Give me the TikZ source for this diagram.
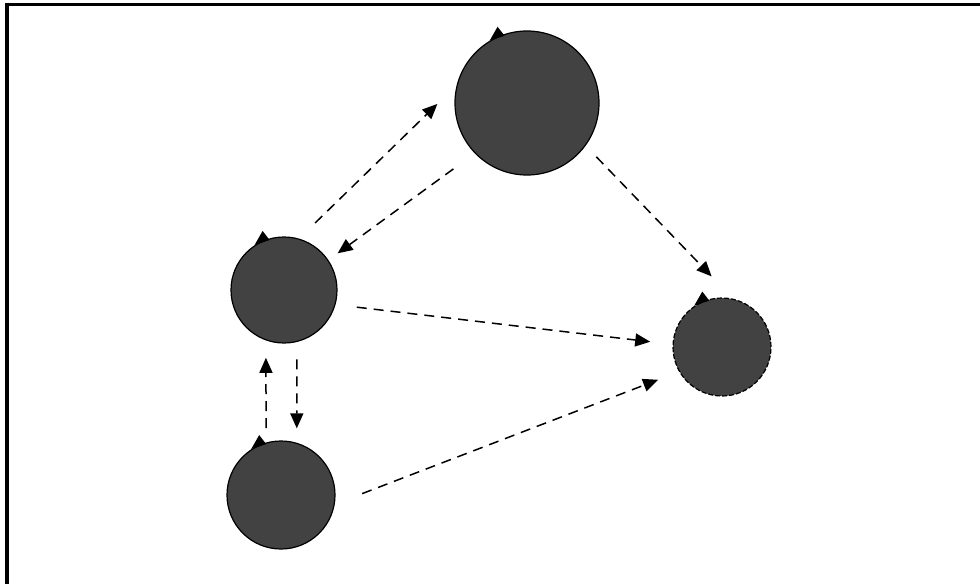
\documentclass[tikz,border=0pt]{standalone}
\usetikzlibrary{arrows.meta}

\tikzset{
  ball/.style={circle, draw=black, line width=1.2pt, fill=black!74, inner sep=0pt, outer sep=0pt},
  flow/.style={line width=1.5pt, dash pattern=on 10pt off 7pt, -{Triangle[length=15pt,width=13pt]}},
}
% 圆上的小三角
\newcommand{\spinmark}[1]{%
  \fill ([shift={(1pt,11pt)}]#1.115) -- ([shift={(-7pt,-3pt)}]#1.115)
        -- ([shift={(8pt,2pt)}]#1.115) -- cycle;}

\begin{document}
\begin{tikzpicture}[x=1pt, y=-1pt]
  \useasboundingbox (0,0) rectangle (980,584);
  % 边框 (只有上边和左边)
  \draw[line width=3.5pt] (5,4.5) -- (980,4.5);
  \draw[line width=4.5pt] (7,2.8) -- (7,584);

  % 节点
  \node[ball, minimum size=144pt] (top) at (527,103) {};
  \node[ball, minimum size=106pt] (mid) at (284,290) {};
  \node[ball, minimum size=108pt] (bot) at (281,495) {};
  \node[ball, minimum size=98pt, dash pattern=on 5pt off 2pt] (right) at (722,347) {};

  \spinmark{top}
  \spinmark{mid}
  \spinmark{bot}
  \spinmark{right}

  % 箭头
  \draw[flow, shorten <=23pt, shorten >=28pt] (mid.74.5) -- (top.165);
  \draw[flow, shorten <=27pt, shorten >=12pt] (top.224.5) -- (mid.34.7);
  \draw[flow, shorten <=16pt, shorten >=32pt] (top.-36.3) -- (right.76.3);
  \draw[flow, shorten <=22pt, shorten >=23pt] (mid.-16.9) -- (right.177.3);
  \draw[flow, shorten <=30pt, shorten >=23pt] (bot.-10.4) -- (right.210.2);
  \draw[flow, shorten <=15pt, shorten >=18pt] (bot.106) -- (mid.250.1);
  \draw[flow, shorten <=18pt, shorten >=15pt] (mid.-76.9) -- (bot.73.9);
\end{tikzpicture}
\end{document}
